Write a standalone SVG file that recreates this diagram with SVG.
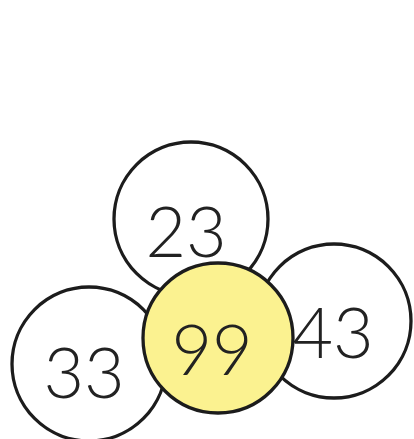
<svg xmlns="http://www.w3.org/2000/svg" width="414" height="439" viewBox="0 0 414 439">
<style>
.c{fill:#fff;stroke:#1c1c1c;stroke-width:3.3}
.y{fill:#fbf290;stroke:#1c1c1c;stroke-width:3.3}
.t{font-family:"Lato","Liberation Sans",sans-serif;font-weight:300;font-size:70px;fill:#222;text-anchor:middle}
</style>
<rect width="414" height="439" fill="#fff"/>
<g id="n23"><circle class="c" cx="191" cy="219" r="77"/><text class="t" x="186" y="257">23</text></g>
<g id="n43"><circle class="c" cx="334" cy="321" r="77"/><text class="t" x="333" y="358">43</text></g>
<g id="n33"><circle class="c" cx="89" cy="364" r="77"/><text class="t" x="84" y="398">33</text></g>
<g id="n99"><circle class="y" cx="218" cy="338" r="75"/><text class="t" x="212" y="375">99</text></g>
</svg>
